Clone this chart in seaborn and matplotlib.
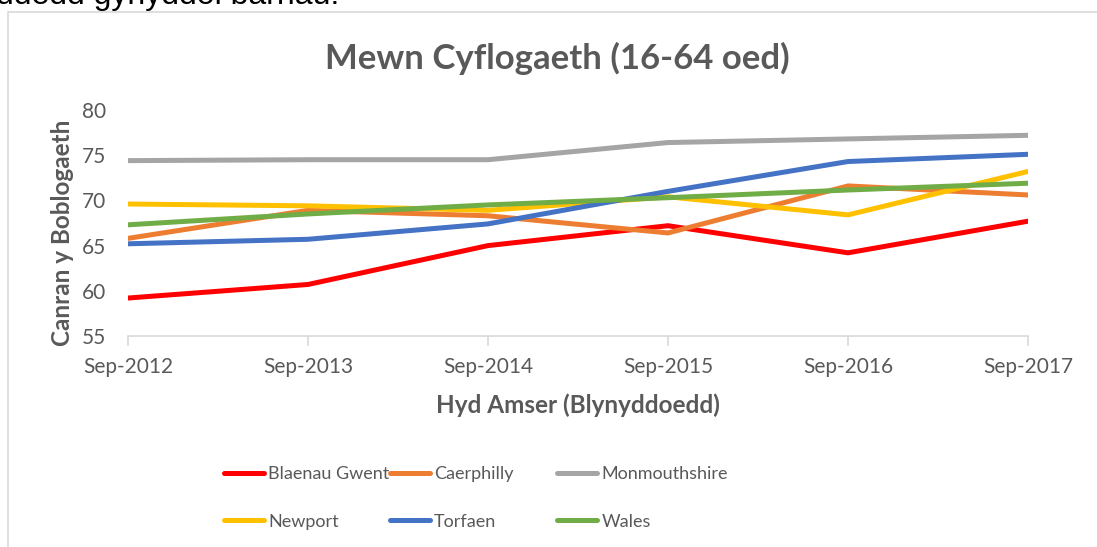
import matplotlib
matplotlib.use("Agg")
import matplotlib.pyplot as plt
import seaborn as sns
import pandas as pd
from matplotlib.patches import Rectangle

# Data
years = ["Sep-2012", "Sep-2013", "Sep-2014", "Sep-2015", "Sep-2016", "Sep-2017"]
blaenau_gwent = [59.2, 60.7, 65.0, 67.2, 64.2, 67.7]
caerphilly = [65.8, 68.9, 68.3, 66.4, 71.6, 70.6]
monmouthshire = [74.4, 74.5, 74.5, 76.4, 76.8, 77.2]
newport = [69.6, 69.4, 68.9, 70.4, 68.4, 73.2]
torfaen = [65.2, 65.7, 67.4, 71.0, 74.3, 75.1]
wales = [67.3, 68.5, 69.5, 70.3, 71.15, 71.9]

series_names = ["Blaenau Gwent", "Caerphilly", "Monmouthshire", "Newport", "Torfaen", "Wales"]
series_values = [blaenau_gwent, caerphilly, monmouthshire, newport, torfaen, wales]
colors = ["#FF0000", "#ED7D31", "#A5A5A5", "#FFC000", "#4472C4", "#70AD47"]

rows = []
for name, vals in zip(series_names, series_values):
    for yr, v in zip(years, vals):
        rows.append({"year": yr, "value": v, "area": name})
df = pd.DataFrame(rows)

sns.set_style("white")
plt.rcParams["font.family"] = ["Lato", "DejaVu Sans"]

fig = plt.figure(figsize=(10.97, 5.47), dpi=100)
W, H = 1097, 547

# frame of the chart box (only top/left visible in reference)
fig.patches.append(Rectangle((8 / W, -0.1), 1.2, (H - 12) / H + 0.1, transform=fig.transFigure,
                             fill=False, edgecolor="#D9D9D9", linewidth=1.2))

# cut-off sentence above the chart
fig.text(-0.004, 1 - 4 / H, "ddedd gynyddol barnau.", family=["Liberation Sans"],
         fontsize=23, color="black", va="baseline", ha="left")

ax = fig.add_axes([128 / W, 1 - 336 / H, 900 / W, 226 / H])
sns.lineplot(data=df, x="year", y="value", hue="area", palette=colors,
             linewidth=3.6, ax=ax, legend=False, sort=False)

ax.set_xlim(0, 5)
ax.set_ylim(55, 80)
ax.set_yticks([55, 60, 65, 70, 75, 80])
for s in ["top", "right", "left"]:
    ax.spines[s].set_visible(False)
ax.spines["bottom"].set_color("#D9D9D9")
ax.spines["bottom"].set_linewidth(1.2)
ax.tick_params(axis="x", length=7, color="#D9D9D9", width=1.2, labelsize=15,
               labelcolor="#595959", pad=8, bottom=True)
ax.tick_params(axis="y", length=0, labelsize=15, labelcolor="#595959", pad=16)
ax.set_xlabel("Hyd Amser (Blynyddoedd)", fontsize=17.5, fontweight="bold", color="#595959")
ax.set_ylabel("Canran y Boblogaeth", fontsize=17.5, fontweight="bold", color="#595959")
ax.xaxis.set_label_coords(0.5, (336 - 405) / 226)
ax.yaxis.set_label_coords((62 - 128) / 900, (336 - 233) / 226)
ax.xaxis.label.set_va("center")
ax.yaxis.label.set_va("center")

fig.text(557 / W, 1 - 58 / H, "Mewn Cyflogaeth (16-64 oed)", ha="center", va="center",
         fontsize=25, fontweight="bold", color="#595959")

# legend: three fixed-width columns like Excel
lines = ax.get_lines()
col_x = [224, 390, 557]
for c in range(3):
    idx = [c, c + 3]
    hs = [lines[i] for i in idx]
    ls = [series_names[i] for i in idx]
    leg = fig.legend(hs, ls, loc="upper left", bbox_to_anchor=(col_x[c] / W, 1 - 466 / H),
                     frameon=False, fontsize=13, handlelength=2.2, handletextpad=0.25,
                     labelspacing=1.75, borderpad=0, borderaxespad=0, labelcolor="#595959")
    for l in leg.get_lines():
        l.set_linewidth(3.6)
        l.set_solid_capstyle("round")

fig.savefig("out.png", dpi=100)
